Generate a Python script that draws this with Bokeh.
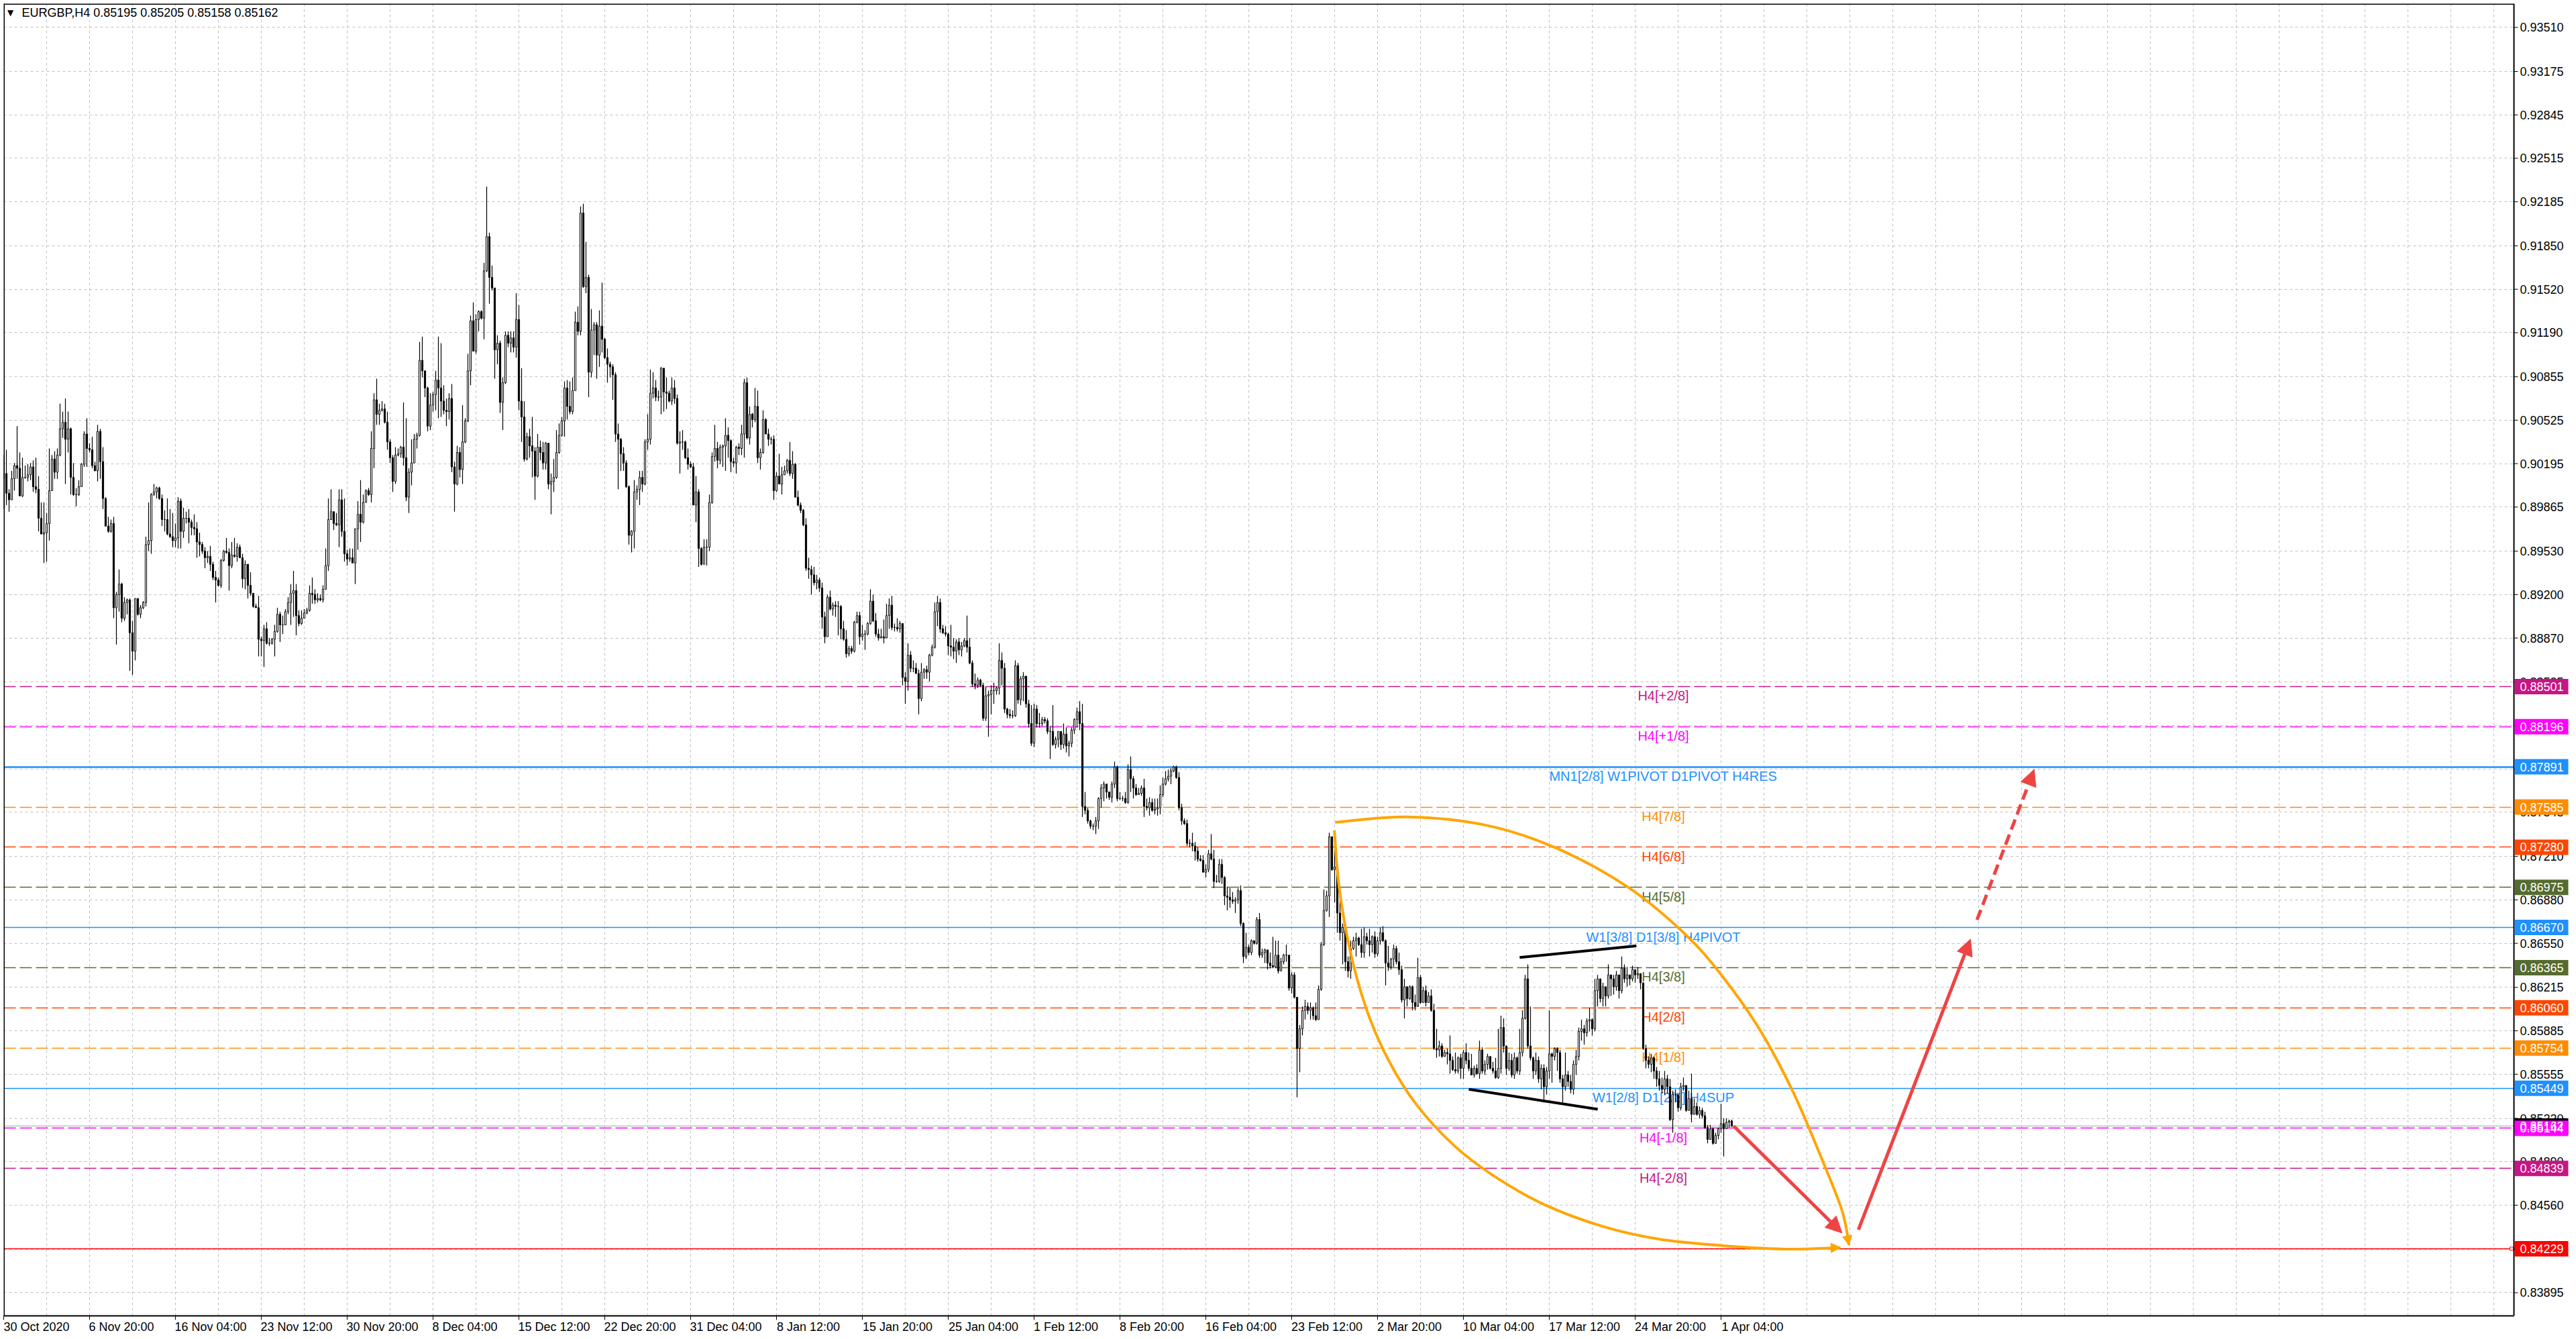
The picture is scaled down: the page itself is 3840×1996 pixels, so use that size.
from bokeh.plotting import figure
from bokeh.models import (Range1d, FixedTicker, Label, Arrow, NormalHead,
                          ColumnDataSource, AllLabels)
from bokeh.core.properties import value
from bokeh.embed import file_html
from bokeh.resources import INLINE

# ---------------- data (prices in pips, 1 pip = 0.0001) ----------------
chart_title = "EURGBP,H4  0.85195 0.85205 0.85158 0.85162"
first_open_pips = 9008

close_pips = [
    9012, 8997, 8992, 9008, 9018, 9016, 8995, 9009, 9009, 9011,
    9017, 9002, 9000, 8978, 8966, 8967, 8974, 8999, 9023, 9013,
    9026, 9046, 9051, 9038, 9046, 9009, 8996, 8996, 9002, 9019,
    9042, 9031, 9030, 9018, 9014, 9044, 9021, 8993, 8972, 8968,
    8974, 8910, 8920, 8928, 8902, 8914, 8916, 8891, 8877, 8917,
    8905, 8910, 8914, 8958, 8961, 8996, 8998, 9001, 8993, 8977,
    8977, 8966, 8964, 8961, 8963, 8991, 8968, 8978, 8978, 8975,
    8971, 8970, 8960, 8958, 8953, 8948, 8949, 8943, 8933, 8931,
    8927, 8946, 8953, 8952, 8942, 8950, 8949, 8956, 8948, 8932,
    8943, 8927, 8921, 8911, 8910, 8886, 8885, 8894, 8883, 8883,
    8886, 8892, 8905, 8897, 8897, 8907, 8914, 8921, 8923, 8904,
    8898, 8902, 8906, 8908, 8921, 8920, 8916, 8917, 8916, 8924,
    8942, 8977, 8983, 8974, 8973, 8992, 8968, 8951, 8947, 8948,
    8944, 8970, 8981, 8975, 8990, 8999, 8996, 9031, 9068, 9057,
    9060, 9061, 9051, 9036, 9024, 9006, 9026, 9027, 9032, 9024,
    8994, 9013, 9020, 9038, 9041, 9098, 9090, 9077, 9048, 9064,
    9072, 9083, 9077, 9067, 9060, 9059, 9069, 9017, 9004, 9028,
    9015, 9036, 9052, 9090, 9128, 9105, 9129, 9135, 9130, 9166,
    9192, 9161, 9153, 9106, 9111, 9066, 9081, 9117, 9111, 9115,
    9108, 9129, 9067, 9055, 9023, 9040, 9033, 9029, 9010, 9032,
    9028, 9020, 9035, 9004, 9006, 9009, 9028, 9041, 9052, 9077,
    9063, 9059, 9075, 9127, 9120, 9210, 9154, 9161, 9089, 9121,
    9125, 9102, 9124, 9114, 9100, 9095, 9093, 9087, 9042, 9038,
    9027, 9020, 9002, 8965, 8968, 8998, 9000, 9009, 9004, 9036,
    9038, 9073, 9077, 9070, 9070, 9092, 9074, 9073, 9067, 9077,
    9069, 9035, 9036, 9036, 9024, 9019, 9017, 8988, 8998, 8955,
    8943, 8956, 8956, 8990, 9025, 9031, 9022, 9032, 9033, 9041,
    9037, 9021, 9020, 9032, 9031, 9042, 9081, 9039, 9057, 9053,
    9063, 9024, 9028, 9053, 9042, 9038, 9038, 8999, 9010, 9004,
    9011, 9014, 9022, 9012, 9019, 8994, 8988, 8984, 8973, 8940,
    8939, 8935, 8929, 8931, 8925, 8903, 8888, 8918, 8909, 8912,
    8911, 8911, 8894, 8886, 8875, 8879, 8877, 8899, 8904, 8888,
    8890, 8890, 8898, 8915, 8900, 8890, 8887, 8888, 8887, 8904,
    8912, 8895, 8895, 8894, 8898, 8857, 8854, 8874, 8864, 8864,
    8860, 8841, 8861, 8863, 8861, 8874, 8880, 8907, 8914, 8894,
    8891, 8890, 8881, 8880, 8877, 8884, 8878, 8881, 8885, 8880,
    8868, 8852, 8851, 8855, 8851, 8826, 8843, 8844, 8847, 8847,
    8849, 8870, 8864, 8833, 8829, 8828, 8828, 8866, 8840, 8856,
    8858, 8837, 8822, 8807, 8833, 8822, 8822, 8825, 8824, 8816,
    8816, 8806, 8810, 8816, 8806, 8814, 8805, 8807, 8817, 8825,
    8831, 8822, 8759, 8756, 8748, 8744, 8744, 8748, 8765, 8773,
    8776, 8770, 8766, 8776, 8789, 8765, 8765, 8765, 8762, 8787,
    8780, 8773, 8768, 8769, 8773, 8759, 8758, 8762, 8756, 8757,
    8758, 8768, 8776, 8780, 8782, 8786, 8789, 8781, 8758, 8748,
    8746, 8731, 8731, 8729, 8725, 8719, 8718, 8709, 8711, 8723,
    8719, 8702, 8702, 8715, 8705, 8691, 8690, 8688, 8687, 8688,
    8695, 8670, 8645, 8652, 8648, 8657, 8655, 8673, 8646, 8648,
    8650, 8640, 8638, 8637, 8646, 8634, 8641, 8646, 8646, 8621,
    8631, 8614, 8575, 8590, 8604, 8607, 8604, 8606, 8600, 8597,
    8620, 8654, 8680, 8691, 8736, 8711, 8713, 8678, 8663, 8667,
    8641, 8634, 8651, 8657, 8659, 8654, 8648, 8660, 8657, 8654,
    8660, 8647, 8657, 8663, 8657, 8640, 8637, 8643, 8651, 8641,
    8635, 8612, 8622, 8613, 8622, 8610, 8607, 8629, 8610, 8619,
    8610, 8615, 8604, 8575, 8574, 8577, 8569, 8572, 8571, 8566,
    8559, 8558, 8568, 8560, 8572, 8566, 8560, 8555, 8560, 8556,
    8574, 8558, 8563, 8569, 8560, 8558, 8553, 8560, 8591, 8577,
    8560, 8566, 8555, 8568, 8558, 8572, 8598, 8628, 8577, 8568,
    8558, 8566, 8552, 8560, 8546, 8558, 8571, 8569, 8575, 8572,
    8552, 8546, 8555, 8550, 8544, 8563, 8569, 8588, 8590, 8587,
    8596, 8597, 8590, 8619, 8628, 8613, 8622, 8615, 8631, 8628,
    8622, 8631, 8619, 8636, 8628, 8631, 8628, 8635, 8631, 8632,
    8625, 8575, 8566, 8563, 8568, 8558, 8552, 8547, 8544, 8552,
    8546, 8521, 8540, 8540, 8530, 8546, 8547, 8528, 8537, 8525,
    8531, 8525, 8528, 8524, 8515, 8506, 8514, 8503, 8509, 8514,
    8518, 8514, 8519, 8520, 8516,
]

high_pips = [
    9026, 9030, 9000, 9014, 9020, 9048, 9028, 9024, 9018, 9019,
    9020, 9022, 9024, 9010, 8990, 8990, 8982, 9031, 9026, 9029,
    9031, 9065, 9059, 9069, 9059, 9047, 9020, 9001, 9007, 9020,
    9044, 9054, 9035, 9040, 9021, 9049, 9046, 9032, 8994, 8979,
    8977, 8979, 8922, 8939, 8929, 8918, 8917, 8917, 8900, 8917,
    8917, 8912, 8915, 8964, 8990, 8997, 9004, 9002, 9002, 8996,
    8984, 8993, 8985, 8982, 8974, 8994, 8993, 8986, 8983, 8985,
    8977, 8981, 8975, 8967, 8960, 8956, 8953, 8957, 8945, 8938,
    8933, 8947, 8954, 8963, 8955, 8960, 8963, 8959, 8958, 8951,
    8946, 8943, 8937, 8919, 8913, 8919, 8888, 8897, 8899, 8887,
    8887, 8897, 8910, 8907, 8904, 8909, 8918, 8928, 8938, 8928,
    8908, 8908, 8909, 8910, 8927, 8933, 8924, 8921, 8920, 8927,
    8955, 8993, 9000, 8983, 8982, 9000, 9000, 8993, 8954, 8955,
    8955, 8970, 8991, 9007, 8996, 9000, 9001, 9044, 9073, 9084,
    9065, 9067, 9065, 9059, 9038, 9026, 9032, 9031, 9033, 9066,
    9054, 9016, 9038, 9042, 9043, 9112, 9116, 9090, 9078, 9073,
    9074, 9090, 9116, 9111, 9079, 9069, 9073, 9080, 9021, 9033,
    9032, 9064, 9054, 9103, 9132, 9142, 9133, 9136, 9136, 9172,
    9230, 9195, 9170, 9119, 9117, 9113, 9085, 9120, 9120, 9120,
    9120, 9149, 9140, 9092, 9067, 9043, 9046, 9055, 9032, 9042,
    9037, 9036, 9036, 9017, 9012, 9023, 9045, 9050, 9055, 9082,
    9083, 9082, 9085, 9135, 9139, 9215, 9217, 9188, 9163, 9137,
    9127, 9127, 9136, 9157, 9115, 9107, 9097, 9095, 9089, 9050,
    9039, 9032, 9022, 9003, 8969, 9007, 9003, 9014, 9014, 9038,
    9057, 9091, 9089, 9083, 9075, 9093, 9092, 9085, 9075, 9085,
    9083, 9072, 9044, 9045, 9037, 9031, 9021, 9020, 9010, 9000,
    8956, 8962, 8962, 8996, 9028, 9049, 9036, 9034, 9034, 9054,
    9047, 9038, 9024, 9033, 9035, 9049, 9084, 9085, 9063, 9058,
    9077, 9075, 9031, 9060, 9054, 9046, 9040, 9041, 9013, 9027,
    9017, 9018, 9023, 9036, 9029, 9020, 8999, 8990, 8985, 8978,
    8948, 8942, 8941, 8935, 8933, 8929, 8907, 8920, 8923, 8914,
    8915, 8915, 8912, 8900, 8893, 8881, 8881, 8900, 8907, 8907,
    8897, 8893, 8899, 8924, 8920, 8906, 8894, 8894, 8901, 8913,
    8917, 8919, 8898, 8902, 8900, 8895, 8861, 8883, 8877, 8870,
    8868, 8863, 8868, 8864, 8866, 8875, 8882, 8914, 8919, 8917,
    8897, 8896, 8891, 8897, 8887, 8886, 8887, 8884, 8887, 8904,
    8887, 8870, 8860, 8857, 8856, 8853, 8850, 8847, 8851, 8853,
    8850, 8883, 8876, 8868, 8834, 8833, 8832, 8870, 8868, 8858,
    8861, 8854, 8840, 8836, 8837, 8836, 8830, 8827, 8827, 8826,
    8820, 8836, 8812, 8816, 8816, 8822, 8819, 8809, 8819, 8826,
    8834, 8839, 8837, 8770, 8758, 8749, 8746, 8751, 8766, 8776,
    8778, 8776, 8770, 8778, 8793, 8790, 8770, 8767, 8770, 8791,
    8797, 8782, 8776, 8773, 8775, 8780, 8765, 8766, 8765, 8765,
    8765, 8775, 8781, 8786, 8787, 8788, 8790, 8790, 8785, 8761,
    8750, 8749, 8734, 8739, 8732, 8728, 8722, 8722, 8715, 8726,
    8738, 8726, 8707, 8719, 8719, 8706, 8698, 8697, 8694, 8690,
    8697, 8699, 8671, 8663, 8654, 8658, 8657, 8675, 8678, 8651,
    8651, 8647, 8648, 8660, 8657, 8657, 8644, 8647, 8654, 8646,
    8633, 8633, 8610, 8593, 8607, 8612, 8610, 8610, 8607, 8610,
    8623, 8656, 8696, 8695, 8739, 8730, 8730, 8707, 8698, 8670,
    8667, 8645, 8657, 8660, 8663, 8660, 8666, 8667, 8663, 8666,
    8661, 8664, 8660, 8667, 8668, 8658, 8653, 8644, 8654, 8653,
    8648, 8638, 8628, 8622, 8623, 8623, 8616, 8644, 8631, 8622,
    8623, 8618, 8620, 8609, 8590, 8581, 8579, 8574, 8575, 8585,
    8569, 8572, 8569, 8571, 8574, 8579, 8572, 8571, 8562, 8563,
    8581, 8576, 8566, 8571, 8566, 8565, 8568, 8590, 8600, 8598,
    8574, 8572, 8571, 8572, 8569, 8590, 8604, 8631, 8639, 8607,
    8569, 8572, 8569, 8563, 8563, 8561, 8604, 8572, 8576, 8576,
    8574, 8555, 8572, 8558, 8555, 8566, 8574, 8591, 8597, 8593,
    8598, 8606, 8598, 8628, 8631, 8628, 8625, 8622, 8639, 8631,
    8631, 8634, 8631, 8645, 8639, 8637, 8631, 8638, 8635, 8637,
    8632, 8622, 8578, 8569, 8571, 8569, 8561, 8558, 8553, 8558,
    8555, 8552, 8543, 8544, 8540, 8549, 8553, 8547, 8543, 8556,
    8537, 8534, 8531, 8530, 8527, 8517, 8517, 8515, 8511, 8515,
    8533, 8522, 8522, 8521, 8521,
]

low_pips = [
    8985, 8988, 8983, 9001, 8999, 9008, 8995, 8994, 9008, 9006,
    9007, 8998, 8997, 8968, 8966, 8944, 8945, 8961, 8999, 9008,
    9008, 9025, 9039, 9004, 9028, 8996, 8995, 8987, 8995, 9002,
    9017, 9017, 9028, 9016, 9014, 9006, 9008, 8985, 8972, 8967,
    8967, 8902, 8882, 8907, 8899, 8900, 8905, 8862, 8859, 8870,
    8904, 8902, 8909, 8911, 8953, 8951, 8995, 8993, 8992, 8972,
    8968, 8965, 8963, 8956, 8956, 8955, 8955, 8963, 8974, 8959,
    8965, 8965, 8948, 8949, 8951, 8940, 8944, 8938, 8931, 8914,
    8926, 8925, 8945, 8951, 8923, 8940, 8948, 8945, 8948, 8925,
    8924, 8917, 8919, 8910, 8910, 8873, 8873, 8865, 8882, 8881,
    8882, 8873, 8891, 8884, 8890, 8897, 8905, 8897, 8903, 8889,
    8896, 8897, 8902, 8905, 8907, 8913, 8913, 8914, 8915, 8914,
    8924, 8938, 8977, 8969, 8972, 8956, 8964, 8945, 8942, 8945,
    8944, 8928, 8954, 8960, 8974, 8990, 8995, 8990, 9016, 9049,
    9049, 9059, 9050, 9030, 9020, 8998, 9004, 9025, 9024, 9018,
    8991, 8982, 9003, 9027, 9031, 9040, 9085, 9070, 9044, 9045,
    9059, 9060, 9054, 9055, 9057, 9048, 9053, 9013, 8983, 9003,
    9009, 9004, 9035, 9051, 9079, 9105, 9103, 9120, 9129, 9114,
    9165, 9141, 9151, 9084, 9095, 9058, 9045, 9080, 9108, 9104,
    9104, 9100, 9060, 9036, 9021, 9022, 9024, 9009, 8992, 9009,
    9022, 9015, 9015, 9000, 8981, 8998, 9008, 9027, 9040, 9040,
    9053, 9057, 9057, 9093, 9117, 9117, 9153, 9149, 9070, 9085,
    9102, 9084, 9093, 9104, 9099, 9081, 9085, 9068, 9036, 9000,
    9014, 9014, 9001, 8958, 8952, 8955, 8992, 8988, 8998, 9003,
    9030, 9034, 9069, 9067, 9067, 9057, 9059, 9061, 9066, 9064,
    9065, 9034, 9012, 9030, 9023, 9015, 9016, 8988, 8975, 8941,
    8942, 8947, 8942, 8953, 8989, 9021, 9016, 9019, 9017, 9014,
    9024, 9013, 9017, 9012, 9026, 9026, 9024, 9038, 9034, 9047,
    9051, 9020, 9015, 9027, 9042, 9033, 9034, 8992, 8998, 9004,
    8996, 9012, 9012, 9010, 9008, 8994, 8987, 8982, 8972, 8938,
    8932, 8920, 8927, 8924, 8922, 8894, 8883, 8888, 8908, 8904,
    8903, 8889, 8886, 8885, 8872, 8873, 8875, 8876, 8898, 8882,
    8885, 8878, 8889, 8897, 8899, 8888, 8885, 8887, 8883, 8887,
    8894, 8893, 8892, 8892, 8891, 8851, 8837, 8847, 8861, 8861,
    8860, 8829, 8839, 8856, 8856, 8854, 8873, 8879, 8896, 8891,
    8890, 8888, 8874, 8873, 8871, 8868, 8874, 8873, 8880, 8876,
    8867, 8850, 8848, 8849, 8850, 8824, 8824, 8812, 8829, 8837,
    8844, 8844, 8851, 8830, 8826, 8826, 8826, 8827, 8837, 8836,
    8839, 8834, 8819, 8805, 8804, 8819, 8819, 8820, 8822, 8814,
    8795, 8805, 8803, 8804, 8802, 8803, 8800, 8797, 8804, 8814,
    8819, 8817, 8751, 8753, 8746, 8742, 8741, 8738, 8742, 8758,
    8763, 8765, 8764, 8762, 8773, 8763, 8764, 8763, 8761, 8761,
    8770, 8765, 8767, 8768, 8767, 8751, 8756, 8752, 8755, 8753,
    8752, 8753, 8766, 8775, 8778, 8776, 8785, 8780, 8756, 8745,
    8745, 8729, 8728, 8725, 8718, 8717, 8717, 8709, 8705, 8709,
    8718, 8697, 8701, 8701, 8700, 8684, 8680, 8682, 8685, 8678,
    8685, 8668, 8640, 8643, 8646, 8646, 8654, 8654, 8644, 8644,
    8640, 8635, 8636, 8636, 8636, 8632, 8636, 8639, 8641, 8619,
    8617, 8613, 8538, 8557, 8585, 8597, 8601, 8597, 8597, 8596,
    8597, 8619, 8653, 8679, 8675, 8710, 8686, 8663, 8657, 8639,
    8634, 8629, 8628, 8650, 8645, 8653, 8644, 8644, 8654, 8645,
    8648, 8644, 8645, 8654, 8656, 8623, 8634, 8635, 8637, 8639,
    8631, 8610, 8598, 8607, 8612, 8604, 8604, 8612, 8609, 8613,
    8607, 8610, 8603, 8574, 8568, 8569, 8568, 8569, 8563, 8556,
    8558, 8556, 8556, 8552, 8552, 8563, 8558, 8555, 8553, 8555,
    8552, 8556, 8555, 8559, 8559, 8556, 8552, 8552, 8556, 8572,
    8555, 8558, 8553, 8552, 8556, 8555, 8569, 8597, 8575, 8566,
    8552, 8555, 8549, 8544, 8534, 8540, 8552, 8549, 8566, 8558,
    8549, 8534, 8543, 8546, 8541, 8540, 8555, 8566, 8581, 8578,
    8584, 8588, 8585, 8588, 8607, 8610, 8607, 8607, 8613, 8615,
    8616, 8619, 8613, 8617, 8625, 8622, 8623, 8626, 8625, 8628,
    8620, 8574, 8560, 8560, 8557, 8552, 8546, 8543, 8541, 8540,
    8541, 8520, 8511, 8534, 8527, 8528, 8543, 8527, 8528, 8519,
    8525, 8524, 8522, 8522, 8514, 8503, 8506, 8502, 8505, 8506,
    8511, 8493, 8514, 8515, 8516,
]

x_tick_bars = [0, 32, 64, 96, 128, 160, 192, 224, 256, 288, 320,
               352, 384, 416, 448, 480, 512, 544, 576, 608, 640]
x_tick_labels = ["30 Oct 2020", "6 Nov 20:00", "16 Nov 04:00", "23 Nov 12:00",
                 "30 Nov 20:00", "8 Dec 04:00", "15 Dec 12:00", "22 Dec 20:00",
                 "31 Dec 04:00", "8 Jan 12:00", "15 Jan 20:00", "25 Jan 04:00",
                 "1 Feb 12:00", "8 Feb 20:00", "16 Feb 04:00", "23 Feb 12:00",
                 "2 Mar 20:00", "10 Mar 04:00", "17 Mar 12:00", "24 Mar 20:00",
                 "1 Apr 04:00"]
y_ticks = [0.93510, 0.93175, 0.92845, 0.92515, 0.92185, 0.91850, 0.91520,
           0.91190, 0.90855, 0.90525, 0.90195, 0.89865, 0.89530, 0.89200,
           0.88870, 0.88535, 0.88205, 0.87875, 0.87545, 0.87210, 0.86880,
           0.86550, 0.86215, 0.85885, 0.85555, 0.85220, 0.84890, 0.84560,
           0.84225, 0.83895]

level_prices = [0.88501, 0.88196, 0.87891, 0.87585, 0.87280, 0.86975, 0.86670,
                0.86365, 0.86060, 0.85754, 0.85449, 0.85144, 0.84839, 0.84229]
level_colors = ["#C71585", "#FF00FF", "#1E90FF", "#FF8C00", "#FF4500", "#556B2F",
                "#1E90FF", "#556B2F", "#FF4500", "#FF8C00", "#1E90FF", "#FF00FF",
                "#C71585", "#FF0000"]
level_dashed = [True, True, False, True, True, True, False,
                True, True, True, False, True, True, False]
level_texts = ["H4[+2/8]", "H4[+1/8]", "MN1[2/8] W1PIVOT D1PIVOT H4RES", "H4[7/8]",
               "H4[6/8]", "H4[5/8]", "W1[3/8] D1[3/8] H4PIVOT", "H4[3/8]",
               "H4[2/8]", "H4[1/8]", "W1[2/8] D1[2/8] H4SUP", "H4[-1/8]",
               "H4[-2/8]", ""]
level_text_bar = 618.5
current_price = 0.85162

upper_arc_bar = [496.2, 522.9, 552.7, 579.0, 605.3, 626.3, 640.3, 654.4, 666.7, 677.2, 685.1, 687.7]
upper_arc_price = [0.87469, 0.87510, 0.87446, 0.87270, 0.86977, 0.86626, 0.86305,
                   0.85895, 0.85427, 0.84929, 0.84519, 0.84256]
lower_arc_bar = [495.9, 497.7, 502.0, 508.1, 516.1, 526.5, 540.6, 555.9, 574.3,
                 595.7, 617.1, 641.6, 666.1, 684.5]
lower_arc_price = [0.87409, 0.86972, 0.86473, 0.86036, 0.85661, 0.85324, 0.85012,
                   0.84775, 0.84563, 0.84400, 0.84301, 0.84251, 0.84226, 0.84238]

red_arrow_bar0 = [644.7, 691.2, 735.4]
red_arrow_price0 = [0.85162, 0.84373, 0.86728]
red_arrow_bar1 = [685.1, 733.0, 756.7]
red_arrow_price1 = [0.84349, 0.86582, 0.87871]
red_arrow_dashed = [False, False, True]

trend_bar0 = [564.95, 546.0]
trend_price0 = [0.86442, 0.85441]
trend_bar1 = [608.45, 594.05]
trend_price1 = [0.86530, 0.85289]

# ---------------- build ----------------
n = min(len(close_pips), len(high_pips), len(low_pips))
closes = [v / 10000 for v in close_pips[:n]]
opens = [first_open_pips / 10000] + closes[:-1]
highs = [max(h / 10000, o, c) for h, o, c in zip(high_pips[:n], opens, closes)]
lows = [min(l / 10000, o, c) for l, o, c in zip(low_pips[:n], opens, closes)]
bars = list(range(n))

FONT = "Liberation Sans"
PX = 19616.0          # pixels per price unit
BPX = 4.0             # pixels per bar
X_AX = 935.5          # bar coordinate of the price-axis line
X_END = 956.0
Y_START, Y_END = 0.83719, 0.93690

p = figure(frame_width=3824, frame_height=1956,
           x_range=Range1d(0, X_END), y_range=Range1d(Y_START, Y_END),
           y_axis_location=None, toolbar_location=None, output_backend="svg",
           min_border_left=5, min_border_top=5, min_border_right=0, min_border_bottom=26,
           background_fill_color="white", border_fill_color="white")
p.outline_line_color = None

# grid
p.xgrid.ticker = FixedTicker(ticks=list(range(16, 935, 16)))
p.ygrid.ticker = FixedTicker(ticks=y_ticks)
for g in (p.xgrid, p.ygrid):
    g.grid_line_color = "#c0c0c0"
    g.grid_line_dash = "4 4"
    g.grid_line_width = 1

# time axis: labels left-aligned at their tick (pad on the left with no-break spaces)
EM = {"0": .556, "1": .556, "2": .556, "3": .556, "4": .556, "5": .556, "6": .556,
      "7": .556, "8": .556, "9": .556, " ": .278, ":": .278, "O": .778, "c": .5,
      "t": .278, "N": .722, "o": .556, "v": .5, "D": .722, "e": .556, "J": .5,
      "a": .556, "n": .556, "F": .611, "b": .556, "M": .833, "r": .333, "A": .667,
      "p": .556}
overrides = {}
for b, t in zip(x_tick_bars, x_tick_labels):
    w = sum(EM.get(ch, .556) for ch in t)
    pad = 1 if b == 0 else int(round(w / 0.278))
    overrides[b] = "\u00a0" * pad + t
xa = p.xaxis[0]
xa.ticker = FixedTicker(ticks=x_tick_bars)
xa.major_label_overrides = overrides
xa.major_label_policy = AllLabels()
xa.major_label_text_font = FONT
xa.major_label_text_font_size = "18px"
xa.major_label_text_color = "black"
xa.major_label_standoff = 0
xa.major_tick_out = 6
xa.major_tick_in = 0
xa.minor_tick_line_color = None
xa.axis_line_color = "black"
xa.axis_line_width = 2
xa.major_tick_line_color = "black"
xa.bounds = (0, X_AX)

# bid line (light grey) and level lines
p.hspan(y=[current_price], line_color="#c0c0c0", line_width=1.5)
dash_src = ColumnDataSource(dict(
    y=[v for v, d in zip(level_prices, level_dashed) if d],
    color=[c for c, d in zip(level_colors, level_dashed) if d]))
p.hspan(y="y", line_color="color", line_width=1.3, line_dash="18 6", source=dash_src)
solid_y = [v for v, d in zip(level_prices, level_dashed) if not d]
solid_c = [c for c, d in zip(level_colors, level_dashed) if not d]
solid_w = [2.5 if abs(v - 0.87891) < 1e-6 else 1.3 for v in solid_y]
p.hspan(y=solid_y, line_color=solid_c, line_width=solid_w)
p.scatter(x=[X_AX - 0.9], y=[0.84229], marker="square", size=5,
          fill_color="white", line_color="#FF0000", line_width=1)

# level texts
txt_idx = [i for i, t in enumerate(level_texts) if t]
p.text(x=[level_text_bar] * len(txt_idx), y=[level_prices[i] for i in txt_idx],
       text=[level_texts[i] for i in txt_idx], text_color=[level_colors[i] for i in txt_idx],
       text_align="center", text_baseline="top", y_offset=3,
       text_font=value(FONT), text_font_size="20px")

# candles
src = ColumnDataSource(dict(
    x=bars, o=opens, h=highs, l=lows, c=closes,
    top=[max(o, c) for o, c in zip(opens, closes)],
    bottom=[min(o, c) for o, c in zip(opens, closes)],
    fill=["white" if c >= o else "black" for o, c in zip(opens, closes)]))
p.segment(x0="x", y0="l", x1="x", y1="h", line_color="black", line_width=1.2, source=src)
p.vbar(x="x", width=0.55, top="top", bottom="bottom", fill_color="fill",
       line_color="black", line_width=1, source=src)

# price scale panel on the right
p.quad(left=[X_AX + 0.15], right=[X_END], bottom=[Y_START], top=[Y_END],
       fill_color="white", line_color=None)
p.segment(x0=[X_AX], y0=[Y_START], x1=[X_AX], y1=[Y_END], line_color="black", line_width=2)
p.segment(x0=[0, 0], y0=[Y_START, Y_END], x1=[0, X_AX], y1=[Y_END, Y_END],
          line_color="black", line_width=3)
p.segment(x0=[X_AX] * len(y_ticks), y0=y_ticks, x1=[X_AX + 6 / BPX] * len(y_ticks),
          y1=y_ticks, line_color="black", line_width=1)
p.text(x=[X_AX + 9 / BPX] * len(y_ticks), y=y_ticks, text=[f"{v:.5f}" for v in y_ticks],
       text_align="left", text_baseline="middle", text_color="black",
       text_font=value(FONT), text_font_size="18px")

box_prices = [current_price] + level_prices
box_colors = ["black"] + level_colors
half = 11.5 / PX
p.quad(left=[X_AX + 1 / BPX] * len(box_prices), right=[X_AX + 81 / BPX] * len(box_prices),
       bottom=[v - half for v in box_prices], top=[v + half for v in box_prices],
       fill_color=box_colors, line_color=None)
p.text(x=[X_AX + 9 / BPX] * len(box_prices), y=box_prices,
       text=[f"{v:.5f}" for v in box_prices], text_align="left", text_baseline="middle",
       text_color="white", text_font=value(FONT), text_font_size="18px")


# orange arcs: smooth curve through sampled points (Catmull-Rom -> cubic Bezier)
def smooth(xs, ys):
    pts = list(zip(xs, ys))
    m = len(pts)
    out = dict(x0=[], y0=[], x1=[], y1=[], cx0=[], cy0=[], cx1=[], cy1=[])
    for i in range(m - 1):
        a = pts[i - 1] if i > 0 else pts[i]
        b, c = pts[i], pts[i + 1]
        d = pts[i + 2] if i + 2 < m else pts[i + 1]
        out["x0"].append(b[0]); out["y0"].append(b[1])
        out["x1"].append(c[0]); out["y1"].append(c[1])
        out["cx0"].append(b[0] + (c[0] - a[0]) / 6); out["cy0"].append(b[1] + (c[1] - a[1]) / 6)
        out["cx1"].append(c[0] - (d[0] - b[0]) / 6); out["cy1"].append(c[1] - (d[1] - b[1]) / 6)
    return out


ORANGE = "#FFA500"
for xs, ys in ((upper_arc_bar, upper_arc_price), (lower_arc_bar, lower_arc_price)):
    p.bezier(source=ColumnDataSource(smooth(xs, ys)), x0="x0", y0="y0", x1="x1", y1="y1",
             cx0="cx0", cy0="cy0", cx1="cx1", cy1="cy1", line_color=ORANGE, line_width=4)
    p.add_layout(Arrow(end=NormalHead(size=14, fill_color=ORANGE, line_color=ORANGE),
                       x_start=xs[-2] + (xs[-1] - xs[-2]) * 0.7,
                       y_start=ys[-2] + (ys[-1] - ys[-2]) * 0.7,
                       x_end=xs[-1], y_end=ys[-1], line_alpha=0))

# black trendlines
p.segment(x0=trend_bar0, y0=trend_price0, x1=trend_bar1, y1=trend_price1,
          line_color="black", line_width=4)

# red arrows
RED = "#EE4444"
for xa0, ya0, xa1, ya1, dsh in zip(red_arrow_bar0, red_arrow_price0, red_arrow_bar1,
                                   red_arrow_price1, red_arrow_dashed):
    p.add_layout(Arrow(end=NormalHead(size=24, fill_color=RED, line_color=RED),
                       x_start=xa0, y_start=ya0, x_end=xa1, y_end=ya1,
                       line_color=RED, line_width=5,
                       line_dash="16 8" if dsh else "solid"))

# title
p.add_layout(Label(x=2.5, y=Y_END - 13 / PX, text="\u25bc", text_font="DejaVu Sans",
                   text_font_size="12px", text_color="black", text_align="center",
                   text_baseline="middle"))
p.add_layout(Label(x=6.75, y=Y_END - 13 / PX, text=chart_title, text_font=FONT,
                   text_font_size="18px", text_color="black", text_align="left",
                   text_baseline="middle"))

open("out.html", "w").write(file_html(p, INLINE))
